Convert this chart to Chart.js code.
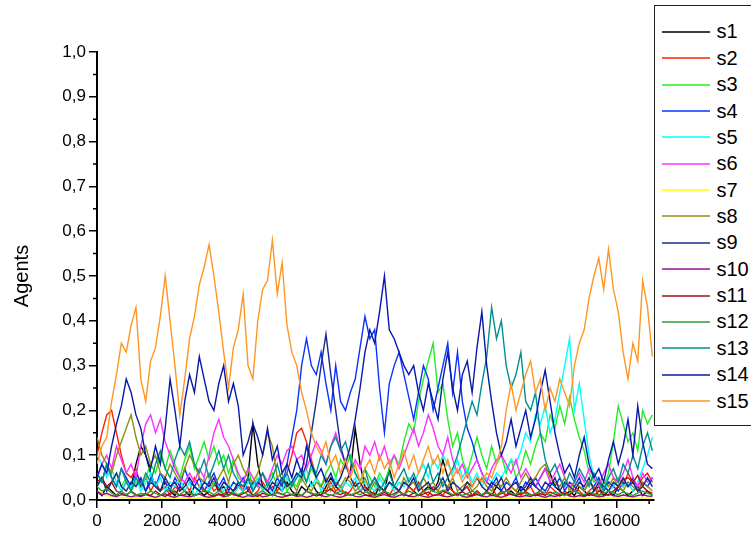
<!DOCTYPE html>
<html>
<head>
<meta charset="utf-8">
<script src="https://cdn.jsdelivr.net/npm/chart.js@4"></script>
<style>
  html, body { margin: 0; padding: 0; background: #fff; overflow: hidden; }
  #wrap { position: relative; width: 751px; height: 534px; }
  #legend {
    position: absolute; left: 654px; top: 5px; width: 120px; height: 421px;
    border: 1.5px solid #222; background: #fff; box-sizing: border-box;
    padding-top: 12.8px; font-family: "Liberation Sans", Arial, sans-serif; font-size: 20px; color: #000;
  }
  .row { display: flex; align-items: center; height: 26.37px; }
  .row .ln { width: 48px; height: 2px; margin-left: 6.5px; opacity: 0.75; }
  .row .tx { margin-left: 7px; }
</style>
</head>
<body>
<div id="wrap">
  <canvas id="myChart" width="751" height="534"></canvas>
  <div id="legend"></div>
</div>
<script>
// time steps (x), every 150 steps
const steps = [];
for (let t = 0; t <= 17100; t += 150) steps.push(t);

const seriesNames = ['s1','s2','s3','s4','s5','s6','s7','s8','s9','s10','s11','s12','s13','s14','s15'];
const seriesColors = ['#000000','#ff2000','#22ee22','#0a33ff','#00ffff','#ff30ff','#ffff00','#909010',
  '#1a2890','#901090','#a01010','#30a030','#009090','#0818a8','#ff9624'];

// values
const s1 = [0.02,0.01,0.03,0.02,0.01,0.02,0.04,0.03,0.08,0.12,
  0.10,0.06,0.03,0.02,0.04,0.02,0.01,0.03,0.02,0.01,
  0.03,0.02,0.01,0.02,0.04,0.02,0.03,0.01,0.02,0.03,
  0.02,0.05,0.17,0.08,0.03,0.02,0.01,0.03,0.02,0.04,
  0.02,0.01,0.03,0.02,0.04,0.02,0.01,0.03,0.05,0.03,
  0.02,0.04,0.06,0.16,0.08,0.03,0.02,0.01,0.03,0.02,
  0.07,0.03,0.02,0.01,0.03,0.02,0.01,0.02,0.03,0.02,
  0.04,0.09,0.05,0.02,0.01,0.02,0.03,0.01,0.02,0.01,
  0.02,0.01,0.03,0.02,0.01,0.02,0.01,0.03,0.02,0.04,
  0.03,0.05,0.07,0.06,0.03,0.02,0.01,0.02,0.01,0.03,
  0.02,0.01,0.02,0.03,0.01,0.02,0.01,0.03,0.02,0.01,
  0.02,0.03,0.01,0.02,0.01];
const s2 = [0.10,0.15,0.19,0.20,0.15,0.10,0.06,0.05,0.07,0.03,
  0.05,0.02,0.04,0.02,0.03,0.01,0.03,0.02,0.04,0.02,
  0.05,0.03,0.02,0.04,0.02,0.03,0.01,0.03,0.02,0.04,
  0.02,0.03,0.01,0.02,0.04,0.02,0.03,0.02,0.04,0.06,
  0.10,0.15,0.16,0.13,0.09,0.05,0.03,0.02,0.04,0.02,
  0.03,0.01,0.02,0.04,0.02,0.03,0.01,0.02,0.03,0.02,
  0.01,0.03,0.02,0.01,0.03,0.02,0.04,0.02,0.01,0.03,
  0.02,0.01,0.03,0.02,0.01,0.02,0.03,0.01,0.02,0.01,
  0.02,0.03,0.01,0.02,0.01,0.03,0.02,0.01,0.02,0.03,
  0.01,0.02,0.01,0.03,0.02,0.01,0.02,0.01,0.03,0.02,
  0.01,0.02,0.03,0.01,0.02,0.04,0.03,0.05,0.03,0.06,
  0.04,0.03,0.05,0.06,0.04];
const s3 = [0.03,0.05,0.02,0.04,0.06,0.03,0.05,0.02,0.04,0.03,
  0.05,0.08,0.06,0.10,0.07,0.11,0.08,0.05,0.09,0.12,
  0.07,0.10,0.13,0.09,0.12,0.08,0.10,0.06,0.09,0.05,
  0.04,0.07,0.03,0.05,0.02,0.04,0.06,0.03,0.05,0.02,
  0.04,0.03,0.06,0.04,0.07,0.05,0.03,0.06,0.08,0.05,
  0.09,0.07,0.10,0.06,0.04,0.07,0.05,0.03,0.06,0.04,
  0.07,0.10,0.08,0.13,0.17,0.15,0.22,0.27,0.31,0.35,
  0.24,0.26,0.18,0.12,0.15,0.09,0.06,0.10,0.14,0.10,
  0.07,0.12,0.08,0.10,0.06,0.09,0.05,0.07,0.11,0.08,
  0.12,0.15,0.13,0.19,0.16,0.21,0.17,0.23,0.18,0.14,
  0.11,0.06,0.04,0.05,0.03,0.06,0.13,0.21,0.17,0.13,
  0.15,0.11,0.20,0.17,0.19];
const s4 = [0.06,0.04,0.08,0.05,0.03,0.07,0.05,0.03,0.06,0.04,
  0.02,0.05,0.03,0.06,0.04,0.02,0.05,0.03,0.07,0.04,
  0.03,0.05,0.02,0.04,0.06,0.03,0.05,0.02,0.04,0.03,
  0.05,0.02,0.04,0.03,0.06,0.04,0.02,0.05,0.03,0.08,
  0.14,0.20,0.30,0.36,0.30,0.28,0.33,0.26,0.20,0.30,
  0.22,0.20,0.24,0.27,0.34,0.41,0.36,0.38,0.25,0.15,
  0.26,0.30,0.33,0.28,0.23,0.18,0.24,0.30,0.27,0.20,
  0.25,0.30,0.35,0.24,0.33,0.22,0.16,0.13,0.09,0.06,
  0.04,0.03,0.05,0.02,0.04,0.03,0.05,0.02,0.04,0.03,
  0.05,0.03,0.02,0.04,0.03,0.05,0.02,0.04,0.03,0.05,
  0.02,0.04,0.03,0.05,0.02,0.04,0.03,0.02,0.04,0.03,
  0.05,0.02,0.04,0.03,0.05];
const s5 = [0.10,0.08,0.05,0.07,0.04,0.02,0.04,0.03,0.05,0.02,
  0.04,0.06,0.03,0.05,0.02,0.04,0.03,0.05,0.02,0.04,
  0.01,0.03,0.05,0.02,0.04,0.03,0.02,0.04,0.01,0.03,
  0.02,0.04,0.03,0.05,0.02,0.03,0.01,0.04,0.02,0.05,
  0.03,0.06,0.04,0.07,0.03,0.05,0.02,0.04,0.03,0.05,
  0.02,0.04,0.03,0.05,0.02,0.04,0.03,0.02,0.05,0.03,
  0.04,0.02,0.04,0.03,0.05,0.04,0.06,0.08,0.05,0.09,
  0.07,0.10,0.08,0.06,0.09,0.05,0.07,0.04,0.06,0.03,
  0.05,0.04,0.06,0.05,0.07,0.09,0.08,0.11,0.15,0.13,
  0.19,0.17,0.21,0.15,0.18,0.24,0.30,0.36,0.20,0.26,
  0.18,0.10,0.05,0.03,0.04,0.02,0.03,0.05,0.03,0.04,
  0.02,0.04,0.07,0.10,0.14];
const s6 = [0.05,0.08,0.10,0.07,0.12,0.09,0.06,0.08,0.05,0.12,
  0.17,0.19,0.15,0.18,0.13,0.10,0.07,0.05,0.04,0.06,
  0.04,0.07,0.05,0.10,0.15,0.18,0.14,0.12,0.09,0.06,
  0.04,0.07,0.05,0.03,0.06,0.04,0.07,0.10,0.08,0.11,
  0.12,0.09,0.10,0.07,0.10,0.13,0.11,0.08,0.12,0.15,
  0.11,0.08,0.06,0.09,0.07,0.12,0.10,0.13,0.09,0.12,
  0.08,0.10,0.07,0.10,0.13,0.16,0.12,0.15,0.19,0.16,
  0.12,0.10,0.14,0.09,0.06,0.08,0.05,0.07,0.09,0.06,
  0.04,0.07,0.09,0.10,0.08,0.06,0.09,0.05,0.07,0.05,
  0.03,0.05,0.07,0.04,0.06,0.08,0.05,0.03,0.04,0.06,
  0.04,0.07,0.05,0.03,0.06,0.08,0.05,0.04,0.06,0.09,
  0.05,0.03,0.06,0.04,0.05];
const s7 = [0.02,0.015,0.01,0.008,0.006,0.005,0.005,0.004,0.005,0.004,
  0.005,0.004,0.005,0.004,0.005,0.004,0.005,0.004,0.005,0.004,
  0.005,0.004,0.005,0.004,0.005,0.004,0.005,0.004,0.005,0.004,
  0.005,0.004,0.005,0.004,0.005,0.004,0.005,0.004,0.005,0.004,
  0.005,0.004,0.005,0.004,0.005,0.004,0.005,0.004,0.005,0.004,
  0.005,0.004,0.005,0.004,0.005,0.004,0.005,0.004,0.005,0.004,
  0.005,0.004,0.005,0.004,0.005,0.004,0.005,0.004,0.005,0.004,
  0.005,0.004,0.005,0.004,0.005,0.004,0.005,0.004,0.005,0.004,
  0.005,0.004,0.005,0.004,0.005,0.004,0.005,0.004,0.005,0.004,
  0.005,0.004,0.005,0.004,0.005,0.004,0.005,0.004,0.005,0.004,
  0.005,0.004,0.005,0.004,0.005,0.004,0.005,0.004,0.005,0.004,
  0.005,0.004,0.005,0.004,0.005];
const s8 = [0.14,0.10,0.08,0.06,0.10,0.13,0.16,0.19,0.14,0.10,
  0.12,0.08,0.10,0.06,0.05,0.08,0.06,0.04,0.07,0.10,
  0.08,0.05,0.04,0.06,0.03,0.05,0.07,0.04,0.08,0.10,
  0.07,0.05,0.04,0.06,0.10,0.15,0.12,0.05,0.06,0.03,
  0.04,0.02,0.05,0.03,0.02,0.04,0.03,0.05,0.02,0.04,
  0.03,0.05,0.04,0.02,0.03,0.05,0.02,0.04,0.03,0.02,
  0.04,0.03,0.02,0.05,0.03,0.04,0.02,0.05,0.03,0.04,
  0.02,0.04,0.03,0.05,0.02,0.03,0.04,0.02,0.03,0.05,
  0.03,0.02,0.04,0.03,0.05,0.03,0.02,0.04,0.06,0.04,
  0.05,0.07,0.08,0.05,0.04,0.03,0.05,0.02,0.04,0.03,
  0.02,0.04,0.03,0.02,0.04,0.03,0.05,0.03,0.02,0.04,
  0.03,0.02,0.04,0.03,0.02];
const s9 = [0.03,0.05,0.02,0.04,0.06,0.03,0.02,0.04,0.03,0.05,
  0.02,0.04,0.03,0.02,0.05,0.03,0.04,0.02,0.03,0.05,
  0.03,0.02,0.04,0.03,0.05,0.02,0.04,0.03,0.02,0.04,
  0.03,0.05,0.02,0.04,0.03,0.02,0.04,0.03,0.05,0.03,
  0.04,0.06,0.05,0.08,0.15,0.22,0.30,0.37,0.28,0.20,
  0.12,0.08,0.05,0.03,0.04,0.02,0.03,0.05,0.03,0.02,
  0.04,0.03,0.02,0.04,0.03,0.05,0.02,0.03,0.04,0.02,
  0.03,0.05,0.02,0.04,0.03,0.02,0.04,0.03,0.05,0.03,
  0.02,0.04,0.03,0.05,0.02,0.03,0.04,0.02,0.03,0.05,
  0.03,0.02,0.04,0.03,0.05,0.02,0.04,0.03,0.02,0.04,
  0.03,0.05,0.02,0.04,0.03,0.02,0.04,0.03,0.05,0.03,
  0.04,0.02,0.03,0.05,0.03];
const s10 = [0.02,0.012,0.015,0.01,0.008,0.012,0.01,0.007,0.01,0.008,
  0.012,0.009,0.006,0.01,0.014,0.008,0.006,0.011,0.009,0.007,
  0.01,0.013,0.008,0.006,0.009,0.012,0.007,0.01,0.015,0.009,
  0.006,0.01,0.008,0.012,0.007,0.009,0.013,0.008,0.006,0.01,
  0.012,0.008,0.01,0.006,0.009,0.014,0.01,0.007,0.011,0.008,
  0.006,0.01,0.013,0.008,0.007,0.011,0.009,0.006,0.01,0.012,
  0.008,0.006,0.01,0.013,0.009,0.007,0.011,0.008,0.006,0.01,
  0.012,0.009,0.007,0.01,0.014,0.008,0.006,0.01,0.012,0.009,
  0.007,0.011,0.008,0.006,0.01,0.013,0.009,0.007,0.01,0.008,
  0.012,0.009,0.006,0.01,0.008,0.011,0.014,0.009,0.007,0.01,
  0.008,0.012,0.01,0.007,0.009,0.013,0.01,0.008,0.011,0.009,
  0.007,0.01,0.012,0.009,0.008];
const s11 = [0.04,0.05,0.03,0.04,0.02,0.015,0.01,0.02,0.012,0.01,
  0.015,0.01,0.02,0.012,0.008,0.015,0.02,0.01,0.012,0.018,
  0.01,0.015,0.022,0.012,0.008,0.014,0.01,0.018,0.012,0.009,
  0.014,0.02,0.011,0.008,0.015,0.012,0.01,0.018,0.013,0.009,
  0.012,0.016,0.01,0.02,0.014,0.009,0.012,0.018,0.025,0.015,
  0.012,0.018,0.01,0.014,0.02,0.012,0.009,0.015,0.011,0.017,
  0.01,0.014,0.02,0.012,0.009,0.016,0.011,0.013,0.018,0.01,
  0.012,0.02,0.015,0.01,0.014,0.018,0.012,0.009,0.015,0.011,
  0.016,0.012,0.009,0.014,0.02,0.012,0.01,0.015,0.018,0.012,
  0.01,0.014,0.011,0.018,0.013,0.009,0.015,0.012,0.02,0.014,
  0.01,0.015,0.01,0.02,0.015,0.01,0.02,0.03,0.045,0.05,
  0.04,0.055,0.03,0.02,0.015];
const s12 = [0.03,0.02,0.025,0.015,0.01,0.02,0.012,0.018,0.01,0.015,
  0.012,0.02,0.015,0.01,0.018,0.025,0.015,0.012,0.02,0.016,
  0.01,0.015,0.022,0.018,0.012,0.02,0.015,0.01,0.016,0.012,
  0.018,0.012,0.01,0.015,0.02,0.013,0.01,0.016,0.012,0.018,
  0.012,0.015,0.01,0.02,0.016,0.012,0.018,0.014,0.01,0.015,
  0.02,0.014,0.01,0.016,0.012,0.018,0.015,0.01,0.014,0.02,
  0.015,0.01,0.018,0.013,0.02,0.016,0.012,0.018,0.025,0.02,
  0.015,0.022,0.018,0.012,0.016,0.01,0.014,0.02,0.015,0.012,
  0.018,0.014,0.01,0.016,0.02,0.015,0.012,0.018,0.014,0.01,
  0.015,0.02,0.016,0.012,0.018,0.014,0.01,0.016,0.02,0.015,
  0.012,0.018,0.014,0.01,0.015,0.02,0.016,0.012,0.018,0.014,
  0.01,0.016,0.02,0.015,0.012];
const s13 = [0.06,0.04,0.08,0.05,0.03,0.07,0.04,0.02,0.05,0.03,
  0.06,0.04,0.08,0.11,0.07,0.05,0.09,0.12,0.10,0.13,
  0.08,0.06,0.09,0.05,0.08,0.11,0.07,0.10,0.06,0.04,
  0.03,0.05,0.02,0.04,0.06,0.03,0.05,0.08,0.04,0.06,
  0.03,0.05,0.07,0.04,0.08,0.06,0.10,0.08,0.12,0.14,
  0.11,0.13,0.09,0.06,0.04,0.07,0.03,0.05,0.02,0.04,
  0.06,0.03,0.05,0.07,0.04,0.06,0.03,0.05,0.08,0.04,
  0.06,0.03,0.05,0.07,0.10,0.14,0.18,0.22,0.19,0.26,
  0.32,0.43,0.36,0.40,0.30,0.25,0.28,0.33,0.22,0.20,
  0.24,0.15,0.09,0.06,0.08,0.05,0.03,0.06,0.04,0.07,
  0.05,0.03,0.06,0.04,0.02,0.05,0.07,0.04,0.08,0.06,
  0.10,0.07,0.12,0.15,0.11];
const s14 = [0.05,0.08,0.06,0.12,0.17,0.21,0.27,0.24,0.19,0.16,
  0.10,0.07,0.12,0.08,0.16,0.27,0.20,0.12,0.22,0.28,
  0.24,0.32,0.27,0.22,0.20,0.26,0.30,0.22,0.26,0.21,
  0.10,0.13,0.17,0.14,0.10,0.16,0.09,0.12,0.06,0.08,
  0.05,0.09,0.06,0.12,0.08,0.05,0.07,0.04,0.06,0.03,
  0.05,0.08,0.12,0.18,0.25,0.33,0.38,0.35,0.42,0.50,
  0.38,0.36,0.33,0.30,0.28,0.30,0.24,0.20,0.26,0.22,
  0.18,0.27,0.33,0.25,0.20,0.28,0.31,0.24,0.34,0.42,
  0.30,0.22,0.15,0.10,0.13,0.18,0.12,0.16,0.20,0.14,
  0.18,0.24,0.29,0.22,0.15,0.10,0.06,0.08,0.05,0.10,
  0.14,0.08,0.05,0.07,0.04,0.09,0.13,0.08,0.12,0.18,
  0.10,0.21,0.13,0.08,0.07];
const s15 = [0.08,0.12,0.14,0.22,0.28,0.35,0.33,0.39,0.43,0.27,
  0.22,0.31,0.34,0.41,0.50,0.40,0.30,0.19,0.27,0.36,
  0.41,0.48,0.52,0.57,0.50,0.42,0.33,0.25,0.34,0.38,
  0.46,0.30,0.27,0.40,0.47,0.49,0.58,0.46,0.53,0.39,
  0.33,0.30,0.24,0.20,0.15,0.12,0.10,0.13,0.08,0.10,
  0.06,0.09,0.05,0.08,0.04,0.07,0.09,0.06,0.10,0.07,
  0.09,0.05,0.08,0.11,0.07,0.10,0.06,0.09,0.12,0.08,
  0.10,0.06,0.09,0.05,0.07,0.04,0.06,0.03,0.05,0.04,
  0.06,0.05,0.08,0.12,0.20,0.26,0.20,0.24,0.28,0.31,
  0.24,0.27,0.20,0.25,0.22,0.27,0.24,0.21,0.30,0.35,
  0.38,0.45,0.50,0.54,0.47,0.56,0.47,0.42,0.33,0.27,
  0.35,0.31,0.49,0.43,0.32];

const allSeries = [s1, s2, s3, s4, s5, s6, s7, s8, s9, s10, s11, s12, s13, s14, s15];
const yTicks = [0, 0.1, 0.2, 0.3, 0.4, 0.5, 0.6, 0.7, 0.8, 0.9, 1.0];
const xTicks = [0, 2000, 4000, 6000, 8000, 10000, 12000, 14000, 16000];
const xMax = 17150;

const fontFam = '"Liberation Sans", Arial, sans-serif';

// small ticks between the big ones
const minorTicks = {
  id: 'minorTicks',
  afterDraw(chart) {
    const { ctx, scales: { x, y } } = chart;
    ctx.save();
    ctx.strokeStyle = '#000';
    ctx.lineWidth = 1.5;
    ctx.beginPath();
    for (let v = 0.05; v < 1; v += 0.1) {
      const py = y.getPixelForValue(v);
      ctx.moveTo(x.left - 4, py);
      ctx.lineTo(x.left, py);
    }
    for (let v = 1000; v < x.max; v += 2000) {
      const px = x.getPixelForValue(v);
      ctx.moveTo(px, y.bottom);
      ctx.lineTo(px, y.bottom + 4);
    }
    ctx.stroke();
    ctx.restore();
  }
};

const ctx = document.getElementById('myChart');

new Chart(ctx, {
  type: 'line',
  data: {
    datasets: allSeries.map((vals, i) => ({
      label: seriesNames[i],
      data: vals.map((v, k) => ({ x: steps[k], y: v })),
      borderColor: seriesColors[i],
      borderWidth: 1.4,
      pointRadius: 0,
      tension: 0,
      fill: false,
      order: allSeries.length - 1 - i
    }))
  },
  options: {
    responsive: false,
    animation: false,
    devicePixelRatio: 1,
    layout: { padding: { top: 52, right: 97, left: 0, bottom: 0 } },
    plugins: {
      legend: { display: false },
      tooltip: { enabled: false }
    },
    scales: {
      x: {
        type: 'linear',
        min: 0,
        max: xMax,
        afterFit: (s) => { s.height = 34; },
        afterBuildTicks: (s) => { s.ticks = xTicks.map(v => ({ value: v })); },
        border: { display: true, color: '#000', width: 2 },
        grid: { drawOnChartArea: false, color: '#000', lineWidth: 1.5, tickLength: 8 },
        ticks: {
          autoSkip: false,
          maxRotation: 0,
          padding: 3,
          color: '#000',
          font: { family: fontFam, size: 17 },
          callback: (v) => String(v)
        }
      },
      y: {
        min: 0,
        max: 1,
        afterFit: (s) => { s.width = 97; },
        afterBuildTicks: (s) => { s.ticks = yTicks.map(v => ({ value: v })); },
        border: { display: true, color: '#000', width: 2 },
        grid: { drawOnChartArea: false, color: '#000', lineWidth: 1.5, tickLength: 8 },
        title: {
          display: true,
          text: 'Agents',
          color: '#000',
          font: { family: fontFam, size: 20 },
          padding: { top: 10, bottom: 4 }
        },
        ticks: {
          padding: 3,
          color: '#000',
          font: { family: fontFam, size: 17 },
          callback: (v) => Number(v).toFixed(1).replace('.', ',')
        }
      }
    }
  },
  plugins: [minorTicks]
});

// legend box on the right
const legend = document.getElementById('legend');
seriesNames.forEach((name, i) => {
  const row = document.createElement('div');
  row.className = 'row';
  row.innerHTML = '<span class="ln" style="background:' + seriesColors[i] + '"></span><span class="tx">' + name + '</span>';
  legend.appendChild(row);
});
</script>
</body>
</html>
